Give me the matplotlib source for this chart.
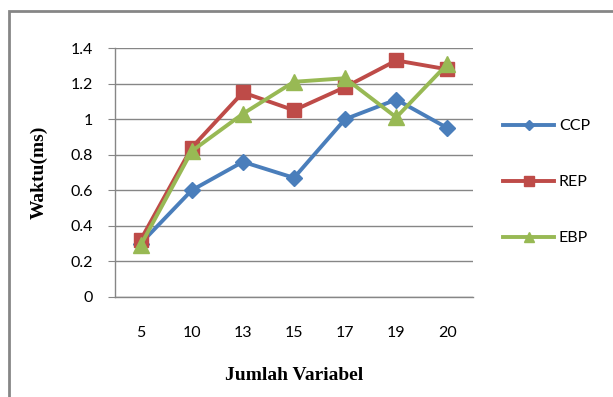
import matplotlib
matplotlib.use("Agg")
import matplotlib.pyplot as plt
from matplotlib.patches import Rectangle

# jumlah variabel vs waktu eksekusi (ms)
variabel = ["5", "10", "13", "15", "17", "19", "20"]
ccp = [0.30, 0.60, 0.76, 0.67, 1.00, 1.11, 0.95]
rep = [0.32, 0.84, 1.15, 1.05, 1.18, 1.33, 1.28]
ebp = [0.29, 0.82, 1.03, 1.21, 1.23, 1.01, 1.31]

tick_font = "Lato"
serif_font = "Liberation Serif"

fig = plt.figure(figsize=(6.13, 3.97), dpi=100)
ax = fig.add_axes([115 / 613, 1 - 297 / 397, 358 / 613, 249 / 397])

x = list(range(len(variabel)))
ax.plot(x, ccp, color="#4A7EBB", lw=2.8, marker="D", ms=8, label="CCP", zorder=3)
ax.plot(x, rep, color="#BE4B48", lw=2.8, marker="s", ms=10, label="REP", zorder=3)
ax.plot(x, ebp, color="#98B954", lw=2.8, marker="^", ms=11, label="EBP", zorder=4)

ax.set_xlim(-0.5, len(variabel) - 0.5)
ax.set_ylim(0, 1.4)
ax.set_yticks([0, 0.2, 0.4, 0.6, 0.8, 1.0, 1.2, 1.4])
ax.set_yticklabels(["0", "0.2", "0.4", "0.6", "0.8", "1", "1.2", "1.4"])
ax.set_xticks(x)
ax.set_xticklabels(variabel)
ax.grid(axis="y", color="#868686", lw=1)
ax.set_axisbelow(True)

for s in ["top", "right"]:
    ax.spines[s].set_visible(False)
for s in ["left", "bottom"]:
    ax.spines[s].set_color("#868686")
    ax.spines[s].set_linewidth(1)

ax.tick_params(axis="y", length=5, color="#868686", pad=11, labelsize=11.5)
ax.tick_params(axis="x", length=0, pad=21, labelsize=11.5)
for lbl in ax.get_xticklabels() + ax.get_yticklabels():
    lbl.set_fontfamily(tick_font)

ax.set_ylabel("Waktu(ms)", fontfamily=serif_font, fontweight="bold", fontsize=14, labelpad=16)
ax.set_xlabel("Jumlah Variabel", fontfamily=serif_font, fontweight="bold", fontsize=14, labelpad=19)

leg = ax.legend(loc="upper left", bbox_to_anchor=(503 / 613, 1 - 119 / 397),
                bbox_transform=fig.transFigure, frameon=False,
                prop={"family": tick_font, "size": 11.5},
                handlelength=3.2, labelspacing=2.62, handletextpad=0.3,
                borderaxespad=0, borderpad=0, markerscale=0.7)

# chart area frame
fig.add_artist(Rectangle((9 / 613, -0.1), 1.2, 1.1 - 11 / 397,
                         transform=fig.transFigure, fill=False,
                         ec="#868686", lw=2))

fig.savefig("out.png", dpi=100)
